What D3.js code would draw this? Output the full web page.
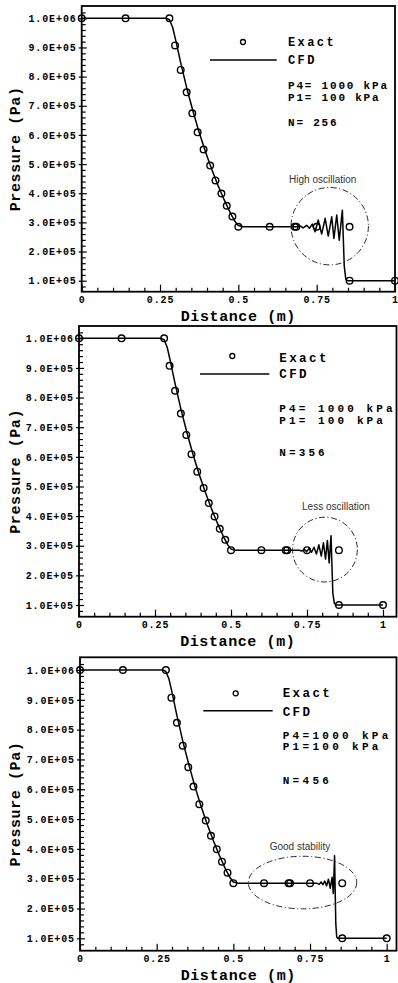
<!DOCTYPE html>
<html><head><meta charset="utf-8">
<script src="https://cdn.jsdelivr.net/npm/d3@7/dist/d3.min.js"></script>
<style>body{margin:0;background:#fff}svg{display:block}</style>
</head><body>
<svg id="chart" width="398" height="983"></svg>
<script>
// ---------- data ----------
const xTicks = [0, 0.25, 0.5, 0.75, 1];
const xTickLabels = ["0", "0.25", "0.5", "0.75", "1"];
const yTicks = [1e5, 2e5, 3e5, 4e5, 5e5, 6e5, 7e5, 8e5, 9e5, 1e6];
const yTickLabels = ["1.0E+05","2.0E+05","3.0E+05","4.0E+05","5.0E+05","6.0E+05","7.0E+05","8.0E+05","9.0E+05","1.0E+06"];

// Exact solution (same in all three panels)
const exactX = [0, 0.14, 0.28, 0.298, 0.316, 0.335, 0.353, 0.37, 0.389, 0.41, 0.427, 0.446, 0.463, 0.481, 0.5, 0.6, 0.68, 0.685, 0.75, 0.855, 0.855, 1.0];
const exactP = [1e6, 1e6, 1e6, 9.07e5, 8.23e5, 7.46e5, 6.74e5, 6.09e5, 5.5e5, 4.95e5, 4.44e5, 3.99e5, 3.57e5, 3.2e5, 2.85e5, 2.85e5, 2.85e5, 2.85e5, 2.85e5, 2.85e5, 1e5, 1e5];

// CFD: expansion fan part (common)
const cfdFanX = [0, 0.27, 0.28, 0.29, 0.30, 0.315, 0.335, 0.355, 0.375, 0.395, 0.415, 0.435, 0.455, 0.475, 0.49, 0.50, 0.515];
const cfdFanP = [1e6, 1e6, 0.995e6, 0.97e6, 0.925e6, 0.852e6, 0.762e6, 0.682e6, 0.608e6, 0.542e6, 0.482e6, 0.427e6, 0.377e6, 0.331e6, 0.302e6, 0.289e6, 0.285e6];

// CFD: plateau / oscillation / shock, N=256
const cfd256X = [0.60, 0.68, 0.688, 0.697, 0.707, 0.718, 0.727, 0.736, 0.745, 0.755, 0.766, 0.777, 0.787, 0.798, 0.805, 0.814, 0.822, 0.832, 0.838, 0.843, 0.848, 1.0];
const cfd256P = [2.85e5, 2.85e5, 2.85e5, 2.88e5, 2.81e5, 2.90e5, 2.80e5, 2.94e5, 2.68e5, 3.08e5, 2.60e5, 3.14e5, 2.53e5, 3.19e5, 2.45e5, 3.25e5, 2.39e5, 3.42e5, 1.5e5, 1.05e5, 1.0e5, 1.0e5];
// N=356
const cfd356X = [0.60, 0.68, 0.725, 0.733, 0.741, 0.749, 0.757, 0.765, 0.773, 0.781, 0.789, 0.797, 0.804, 0.811, 0.817, 0.823, 0.829, 0.835, 0.840, 0.845, 1.0];
const cfd356P = [2.85e5, 2.85e5, 2.85e5, 2.82e5, 2.88e5, 2.80e5, 2.91e5, 2.78e5, 2.95e5, 2.72e5, 3.03e5, 2.65e5, 3.10e5, 2.55e5, 3.18e5, 2.42e5, 3.34e5, 1.4e5, 1.05e5, 1.0e5, 1.0e5];
// N=456
const cfd456X = [0.60, 0.68, 0.75, 0.772, 0.780, 0.786, 0.792, 0.798, 0.804, 0.810, 0.816, 0.822, 0.826, 0.830, 0.834, 0.837, 0.840, 1.0];
const cfd456P = [2.85e5, 2.85e5, 2.85e5, 2.85e5, 2.81e5, 2.89e5, 2.80e5, 2.92e5, 2.76e5, 2.98e5, 2.68e5, 3.05e5, 2.50e5, 3.77e5, 1.5e5, 1.05e5, 1.0e5, 1.0e5];

const legendLabels = ["Exact", "CFD"];
const infoTexts = [
  ["P4= 1000 kPa", "P1= 100 kPa", "N= 256"],
  ["P4= 1000 kPa", "P1= 100 kPa", "N=356"],
  ["P4=1000 kPa", "P1=100 kPa", "N=456"]
];
const noteTexts = ["High oscillation", "Less oscillation", "Good stability"];
const noteCenterX = [0.7916, 0.809, 0.7255];
const noteCenterP = [2.87e5, 2.87e5, 2.87e5];
const xTitle = "Distance (m)";
const yTitle = "Pressure (Pa)";

// ---------- layout ----------
const panels = [
  {x0:81.7, x1:395, xr:395, y5:280.7, y6:18.3, top:6, bottom:291.7,
   cfdX: cfd256X, cfdP: cfd256P,
   lg:{cx:243, cy:42, tx:288, ey:45.5, lx1:210, lx2:276.7, ly:60, cy2:63.5, iy:[88.5,101,125.5], fs:12, els:2.4, ifs:11, ils:1.8},
   note:{rx:38.7, ry:38.7, dx:-7, gap:4.5}},
  {x0:79, x1:383, xr:396.5, y5:605, y6:338.3, top:326, bottom:616.7,
   cfdX: cfd356X, cfdP: cfd356P,
   lg:{cx:232.3, cy:356, tx:279.3, ey:361.7, lx1:200, lx2:269.3, ly:374, cy2:378.3, iy:[411.7,424,456], fs:12.5, els:2.4, ifs:11, ils:3.1},
   note:{rx:32.4, ry:32.4, dx:11, gap:7}},
  {x0:80, x1:386.7, xr:396.5, y5:938.3, y6:670, top:657.3, bottom:950.7,
   cfdX: cfd456X, cfdP: cfd456P,
   lg:{cx:235.7, cy:693.3, tx:282.7, ey:696.7, lx1:203.3, lx2:272.7, ly:710.7, cy2:716, iy:[738.5,750,783.5], fs:12.5, els:2.4, ifs:11, ils:3.3},
   note:{rx:54.2, ry:26.3, dx:-2.5, gap:6}}
];

const svg = d3.select("#chart");
const MONO = "'Liberation Mono', 'DejaVu Sans Mono', monospace";

panels.forEach((pn, i) => {
  const g = svg.append("g");
  const x = d3.scaleLinear().domain([0, 1]).range([pn.x0, pn.x1]);
  const y = d3.scaleLinear().domain([1e5, 1e6]).range([pn.y5, pn.y6]);

  // minor ticks
  const xMinor = [];
  for (let k = 1; k <= 21; k++) { if (k % 5 !== 0) { const v = k * 0.05; if (x(v) < pn.xr - 1) xMinor.push(v); } }
  const yMinor = [];
  for (let k = 2; k <= 53; k++) { if (k % 5 !== 0) { const v = k * 2e4; const py = y(v); if (py > pn.top + 1 && py < pn.bottom - 1) yMinor.push(v); } }

  g.append("g").attr("transform", `translate(0,${pn.bottom})`)
    .call(d3.axisBottom(x).tickValues(xTicks).tickFormat((d, j) => xTickLabels[j]).tickSize(-7).tickPadding(4));
  g.append("g").attr("transform", `translate(0,${pn.bottom})`)
    .call(d3.axisBottom(x).tickValues(xMinor).tickFormat("").tickSize(-4));
  const gy = g.append("g").attr("transform", `translate(${pn.x0},0)`)
    .call(d3.axisLeft(y).tickValues(yTicks).tickFormat((d, j) => yTickLabels[j]).tickSize(-5).tickPadding(5));
  gy.selectAll(".tick").append("line").attr("x2", -3);
  g.append("g").attr("transform", `translate(${pn.x0},0)`)
    .call(d3.axisLeft(y).tickValues(yMinor).tickFormat("").tickSize(-4));

  g.selectAll(".domain").remove();
  g.selectAll(".tick line").attr("stroke", "#000").attr("stroke-width", 1.2);
  g.selectAll(".tick text").attr("font-family", MONO).attr("font-weight", "bold")
    .attr("font-size", 10).attr("letter-spacing", 0.9).attr("fill", "#000");

  // frame
  g.append("rect").attr("x", pn.x0).attr("y", pn.top)
    .attr("width", pn.xr - pn.x0).attr("height", pn.bottom - pn.top)
    .attr("fill", "none").attr("stroke", "#000").attr("stroke-width", 1.8);

  // axis titles
  g.append("text").attr("x", (pn.x0 + pn.xr) / 2).attr("y", pn.bottom + 28.8)
    .attr("text-anchor", "middle").attr("font-family", MONO).attr("font-weight", "bold")
    .attr("font-size", 15).attr("letter-spacing", 0.6).text(xTitle);
  g.append("text").attr("transform", `translate(20,${(pn.top + pn.bottom) / 2}) rotate(-90)`)
    .attr("text-anchor", "middle").attr("font-family", MONO).attr("font-weight", "bold")
    .attr("font-size", 15).attr("letter-spacing", 0.6).text(yTitle);

  // annotation ellipse + text
  const ecx = x(noteCenterX[i]), ecy = y(noteCenterP[i]);
  g.append("ellipse").attr("cx", ecx).attr("cy", ecy).attr("rx", pn.note.rx).attr("ry", pn.note.ry)
    .attr("fill", "none").attr("stroke", "#111").attr("stroke-width", 0.9)
    .attr("stroke-dasharray", "6,2.5,1.2,2.5");
  g.append("text").attr("x", ecx + pn.note.dx).attr("y", ecy - pn.note.ry - pn.note.gap)
    .attr("text-anchor", "middle").attr("font-family", "'Liberation Sans', Arial, sans-serif")
    .attr("font-size", 10).attr("fill", "#333").text(noteTexts[i]);

  // CFD line
  const cfdX = cfdFanX.concat(pn.cfdX), cfdP = cfdFanP.concat(pn.cfdP);
  const line = d3.line().x(d => x(d[0])).y(d => y(d[1]));
  g.append("path").datum(cfdX.map((v, j) => [v, cfdP[j]]))
    .attr("d", line).attr("fill", "none").attr("stroke", "#000").attr("stroke-width", 1.5)
    .attr("stroke-linejoin", "round");

  // exact circles
  g.append("g").selectAll("circle").data(exactX.map((v, j) => [v, exactP[j]])).join("circle")
    .attr("cx", d => x(d[0])).attr("cy", d => y(d[1])).attr("r", 3.3)
    .attr("fill", "none").attr("stroke", "#000").attr("stroke-width", 1.4);

  // legend
  const lg = pn.lg;
  g.append("circle").attr("cx", lg.cx).attr("cy", lg.cy).attr("r", 2.5)
    .attr("fill", "none").attr("stroke", "#000").attr("stroke-width", 1.3);
  g.append("line").attr("x1", lg.lx1).attr("x2", lg.lx2).attr("y1", lg.ly).attr("y2", lg.ly)
    .attr("stroke", "#000").attr("stroke-width", 1.5);
  [lg.ey, lg.cy2].forEach((yy, j) => {
    g.append("text").attr("x", lg.tx).attr("y", yy).attr("font-family", MONO).attr("font-weight", "bold")
      .attr("font-size", lg.fs).attr("letter-spacing", lg.els).text(legendLabels[j]);
  });
  lg.iy.forEach((yy, j) => {
    g.append("text").attr("x", lg.tx).attr("y", yy).attr("font-family", MONO).attr("font-weight", "bold")
      .attr("font-size", lg.ifs).attr("letter-spacing", lg.ils).text(infoTexts[i][j]);
  });
});
</script>
</body></html>
